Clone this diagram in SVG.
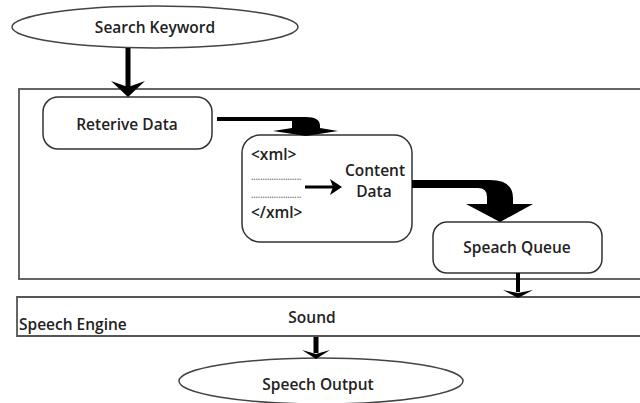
<svg xmlns="http://www.w3.org/2000/svg" width="640" height="403" viewBox="0 0 640 403">
<style>
text{font-family:"Open Sans","Liberation Sans",sans-serif;font-size:15.5px;font-weight:600;fill:#222}
.c{text-anchor:middle}
.box{fill:#fff;stroke:#333;stroke-width:1.5}
.frame{fill:none;stroke:#555;stroke-width:1.8}
.dots{font-size:8px;font-weight:700;fill:#777}
.ln{stroke:#000;fill:none}
.hd{fill:#000}
</style>
<rect width="640" height="403" fill="#fff"/>
<g id="frame-main"><rect class="frame" x="19" y="89" width="640" height="190"/></g>
<g id="speech-engine">
<path class="frame" d="M660,297 H17 V336 H660"/>
<text x="19" y="330">Speech Engine</text>
<text class="c" x="312" y="323">Sound</text>
</g>
<g id="search-keyword">
<ellipse cx="155" cy="27" rx="143" ry="21" fill="#fff" stroke="#444" stroke-width="1.5"/>
<text class="c" x="155" y="33">Search Keyword</text>
</g>
<g id="retrieve-data">
<rect class="box" x="43" y="97" width="169" height="52" rx="15"/>
<text class="c" x="127" y="130">Reterive Data</text>
</g>
<g id="content-data">
<rect class="box" x="242" y="135" width="170" height="107" rx="18"/>
<text x="251" y="160">&lt;xml&gt;</text>
<text class="dots" x="251" y="180">......................</text>
<text class="dots" x="251" y="198">......................</text>
<text x="251" y="218">&lt;/xml&gt;</text>
<text class="c" x="375" y="176">Content</text>
<text class="c" x="374" y="197">Data</text>
<line class="ln" x1="305" y1="187" x2="334" y2="187" stroke-width="3"/>
<polygon class="hd" points="330,179 342,187 330,195 333,187"/>
</g>
<g id="speach-queue">
<rect class="box" x="433" y="222" width="169" height="51" rx="14"/>
<text class="c" x="517" y="253">Speach Queue</text>
</g>
<g id="speech-output">
<ellipse cx="321" cy="381" rx="142" ry="23" fill="#fff" stroke="#444" stroke-width="1.5"/>
<text class="c" x="318" y="390">Speech Output</text>
</g>
<g id="connectors">
<line class="ln" x1="128" y1="48" x2="128" y2="88" stroke-width="5"/>
<polygon class="hd" points="111,81 128,97 145,81 128,87"/>
<line class="ln" x1="217" y1="119" x2="293" y2="119" stroke-width="4"/>
<path class="hd" d="M290,117 L306,117 Q320,117 320,126 L320,128 L338,131 L306,136 L273,131 L292,128 L292,121 Z"/>
<path class="hd" d="M412,180 L490,180 Q513,180 513,198 L513,204 L533,204 L500,222 L466,204 L487,204 L487,197 Q487,188 478,188 L412,188 Z"/>
<line class="ln" x1="518" y1="273" x2="518" y2="292" stroke-width="4"/>
<polygon class="hd" points="503,290 518,298 533,290 518,293"/>
<line class="ln" x1="316" y1="337" x2="316" y2="353" stroke-width="5"/>
<polygon class="hd" points="302,350 316,359 330,350 316,354"/>
</g>
</svg>
